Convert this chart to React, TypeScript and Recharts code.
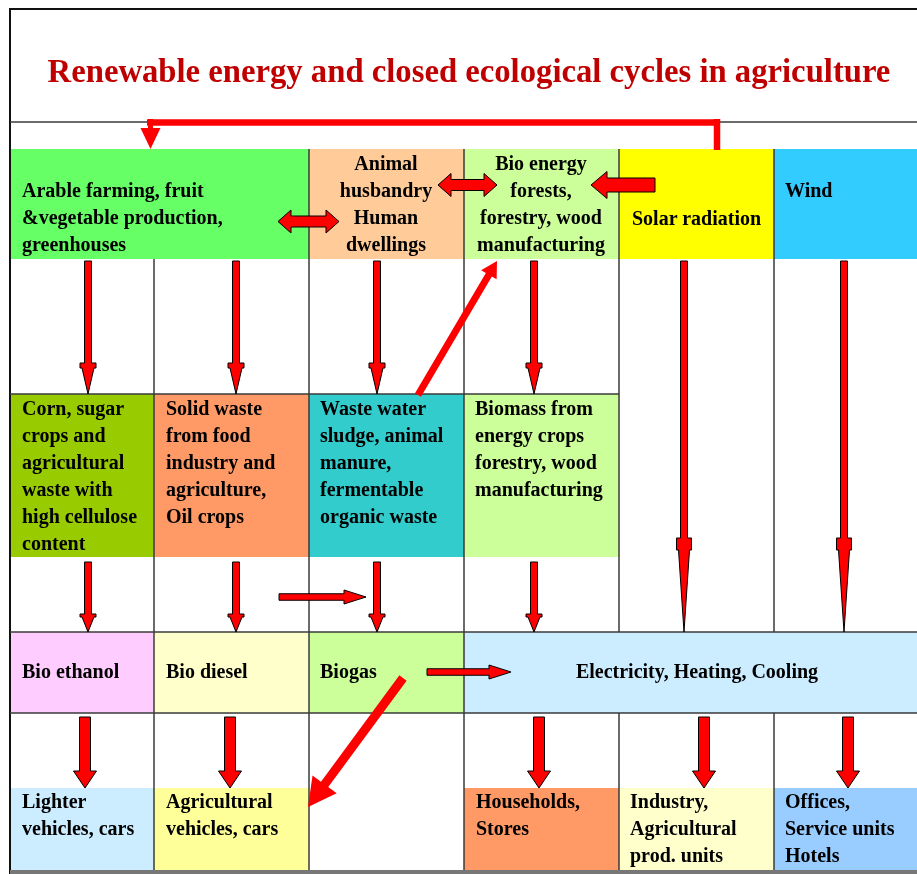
import React from 'react';
import { ComposedChart, XAxis, YAxis, ReferenceArea, ReferenceLine, Scatter } from 'recharts';

// ---- layout grid (page pixel units used as data units) ----
const colEdges = [10, 154, 309, 464, 619, 774, 917];
const rowEdges = [122, 149, 259, 394, 557, 632, 713, 788, 870];

// ---- boxes: [col start, col end, row start, row end, colour] ----
const topBoxes = [
  [0, 2, 1, 2, '#66FF66'],
  [2, 3, 1, 2, '#FFCC99'],
  [3, 4, 1, 2, '#CCFF99'],
  [4, 5, 1, 2, '#FFFF00'],
  [5, 6, 1, 2, '#33CCFF'],
];
const feedstockBoxes = [
  [0, 1, 3, 4, '#99CC00'],
  [1, 2, 3, 4, '#FF9966'],
  [2, 3, 3, 4, '#33CCCC'],
  [3, 4, 3, 4, '#CCFF99'],
];
const productBoxes = [
  [0, 1, 5, 6, '#FFCCFF'],
  [1, 2, 5, 6, '#FFFFCC'],
  [2, 3, 5, 6, '#CCFF99'],
  [3, 6, 5, 6, '#CCECFF'],
];
const consumerBoxes = [
  [0, 1, 7, 8, '#CCECFF'],
  [1, 2, 7, 8, '#FFFF99'],
  [3, 4, 7, 8, '#FF9966'],
  [4, 5, 7, 8, '#FFFFCC'],
  [5, 6, 7, 8, '#99CCFF'],
];

// ---- texts ----
const titleText = 'Renewable energy and closed ecological cycles in agriculture';
const labels = [
  { x: 469, y: 82, kind: 'title', lines: [titleText] },
  { x: 22, y: 197, kind: 'left', lines: ['Arable farming, fruit', '&vegetable production,', 'greenhouses'] },
  { x: 386, y: 170, kind: 'center', lines: ['Animal', 'husbandry', 'Human', 'dwellings'] },
  { x: 541, y: 170, kind: 'center', lines: ['Bio energy', 'forests,', 'forestry, wood', 'manufacturing'] },
  { x: 632, y: 225, kind: 'left', lines: ['Solar radiation'] },
  { x: 785, y: 197, kind: 'left', lines: ['Wind'] },
  { x: 22, y: 415, kind: 'left', lines: ['Corn, sugar', 'crops and', 'agricultural', 'waste with', 'high cellulose', 'content'] },
  { x: 166, y: 415, kind: 'left', lines: ['Solid waste', 'from food', 'industry and', 'agriculture,', 'Oil crops'] },
  { x: 320, y: 415, kind: 'left', lines: ['Waste water', 'sludge, animal', 'manure,', 'fermentable', 'organic waste'] },
  { x: 475, y: 415, kind: 'left', lines: ['Biomass from', 'energy crops', 'forestry, wood', 'manufacturing'] },
  { x: 22, y: 678, kind: 'left', lines: ['Bio ethanol'] },
  { x: 166, y: 678, kind: 'left', lines: ['Bio diesel'] },
  { x: 320, y: 678, kind: 'left', lines: ['Biogas'] },
  { x: 697, y: 678, kind: 'center', lines: ['Electricity, Heating, Cooling'] },
  { x: 22, y: 808, kind: 'left', lines: ['Lighter', 'vehicles, cars'] },
  { x: 166, y: 808, kind: 'left', lines: ['Agricultural', 'vehicles, cars'] },
  { x: 476, y: 808, kind: 'left', lines: ['Households,', 'Stores'] },
  { x: 630, y: 808, kind: 'left', lines: ['Industry,', 'Agricultural', 'prod. units'] },
  { x: 785, y: 808, kind: 'left', lines: ['Offices,', 'Service units', 'Hotels'] },
];

// ---- grid lines: [x1, y1, x2, y2, kind] ----
const gridLines = [
  [10, 9, 917, 9, 'frame'],
  [10, 8, 10, 874, 'frame'],
  [10, 122, 917, 122, 'rule'],
  [154, 259, 154, 870, 'rule'],
  [309, 149, 309, 870, 'rule'],
  [464, 149, 464, 870, 'rule'],
  [619, 149, 619, 632, 'rule'],
  [619, 713, 619, 870, 'rule'],
  [774, 149, 774, 632, 'rule'],
  [774, 713, 774, 870, 'rule'],
  [10, 394, 619, 394, 'rule'],
  [10, 632, 917, 632, 'rule'],
  [10, 713, 917, 713, 'rule'],
  [10, 872, 917, 872, 'base'],
];

// ---- flow lines (red) ----
const flowLines = [
  [717, 150, 717, 119],
  [720, 122.5, 147, 122.5],
];

// ---- arrows: [x1, y1, x2, y2, kind] ----
const downArrowXs = [88, 236, 377, 534];
const longArrowXs = [684, 844];
const consumerArrowXs = [85, 230, 539, 704, 848];
const arrows = [
  ...downArrowXs.map((x) => [x, 261, x, 394, 'thin']),
  ...longArrowXs.map((x) => [x, 261, x, 632, 'long']),
  ...downArrowXs.map((x) => [x, 562, x, 632, 'short']),
  ...consumerArrowXs.map((x) => [x, 717, x, 788, 'thick']),
  [279, 597, 366, 597, 'hflow'],
  [427, 672, 511, 672, 'hflow'],
  [278, 221.5, 339, 221.5, 'double'],
  [438, 185, 497, 185, 'double'],
  [655, 185, 591, 185, 'left'],
  [418, 395, 497, 261, 'diagUp'],
  [403, 678, 308, 807, 'diagDown'],
  [150.5, 119, 150.5, 149, 'lhead'],
];

const arrowStyles: Record<string, any> = {
  thin: { sw: 7, hw: 16, hl: 31, step: 5, outline: true },
  long: { sw: 7, hw: 15, hl: 94, step: 12, outline: true },
  short: { sw: 7, hw: 16, hl: 18, step: 3, outline: true },
  thick: { sw: 11, hw: 23, hl: 17, step: 0, outline: true },
  hflow: { sw: 6.5, hw: 14, hl: 22, step: 0, outline: true },
  double: { sw: 11, hw: 23, hl: 13, step: 0, outline: true, double: true },
  left: { sw: 14, hw: 27, hl: 16, step: 0, outline: true },
  diagUp: { sw: 7, hw: 18, hl: 16, step: 0, outline: false },
  diagDown: { sw: 9, hw: 30, hl: 28, step: 0, outline: false },
  lhead: { sw: 5, hw: 20, hl: 21, step: 0, outline: false },
};

const lineStyles: Record<string, any> = {
  frame: { stroke: '#111', width: 2 },
  rule: { stroke: '#3a3a3a', width: 1.5 },
  base: { stroke: '#777', width: 4 },
};

const FONT = "'Liberation Serif', 'Times New Roman', serif";

function arrowPoints(x1: number, y1: number, x2: number, y2: number, st: any) {
  const dx = x2 - x1, dy = y2 - y1;
  const L = Math.hypot(dx, dy);
  const ux = dx / L, uy = dy / L;
  const nx = -uy, ny = ux;
  const P = (t: number, s: number) => [x1 + ux * t + nx * s, y1 + uy * t + ny * s];
  const { sw, hw, hl, step } = st;
  const pts: number[][] = [];
  if (st.double) pts.push(P(0, 0), P(hl, hw / 2), P(hl, sw / 2));
  else pts.push(P(0, sw / 2));
  pts.push(P(L - hl, sw / 2), P(L - hl, hw / 2));
  if (step) pts.push(P(L - hl + step, hw / 2), P(L - hl + step, hw / 2 - 2));
  pts.push(P(L, 0));
  if (step) pts.push(P(L - hl + step, -hw / 2 + 2), P(L - hl + step, -hw / 2));
  pts.push(P(L - hl, -hw / 2), P(L - hl, -sw / 2));
  if (st.double) pts.push(P(hl, -sw / 2), P(hl, -hw / 2));
  else pts.push(P(0, -sw / 2));
  return pts.map((p) => `${p[0].toFixed(2)},${p[1].toFixed(2)}`).join(' ');
}

const makeArrowShape = (kind: string) => (props: any) => {
  const st = arrowStyles[kind];
  const { x1, y1, x2, y2 } = props;
  if ([x1, y1, x2, y2].some((v) => typeof v !== 'number' || isNaN(v))) return <g />;
  return (
    <polygon
      points={arrowPoints(x1, y1, x2, y2, st)}
      fill="#FF0000"
      stroke={st.outline ? '#000' : 'none'}
      strokeWidth={st.outline ? 1 : 0}
      strokeLinejoin="miter"
    />
  );
};

const LabelShape = (props: any) => {
  const { cx, cy, payload } = props;
  if (cx == null || cy == null || !payload) return <g />;
  const isTitle = payload.kind === 'title';
  const anchor = payload.kind === 'left' ? 'start' : 'middle';
  return (
    <text
      x={cx}
      y={cy}
      textAnchor={anchor}
      fontFamily={FONT}
      fontWeight="bold"
      fontSize={isTitle ? 32.7 : 20}
      fill={isTitle ? '#C00000' : '#000'}
    >
      {payload.lines.map((l: string, i: number) => (
        <tspan key={i} x={cx} dy={i === 0 ? 0 : 27}>
          {l}
        </tspan>
      ))}
    </text>
  );
};

const allBoxes = [...topBoxes, ...feedstockBoxes, ...productBoxes, ...consumerBoxes];

export default function App() {
  return (
    <div style={{ position: 'fixed', left: 8, top: 8, width: 909, height: 866 }}>
      <ComposedChart width={909} height={866} margin={{ top: 0, right: 0, bottom: 0, left: 0 }}>
        <XAxis type="number" dataKey="x" domain={[8, 917]} allowDataOverflow hide />
        <YAxis type="number" dataKey="y" domain={[8, 874]} allowDataOverflow reversed hide />
        {allBoxes.map((b: any, i) => (
          <ReferenceArea
            key={'b' + i}
            x1={colEdges[b[0]]}
            x2={colEdges[b[1]]}
            y1={rowEdges[b[2]]}
            y2={rowEdges[b[3]]}
            fill={b[4]}
            fillOpacity={1}
            stroke="none"
            ifOverflow="visible"
          />
        ))}
        {gridLines.map((g: any, i) => (
          <ReferenceLine
            key={'g' + i}
            segment={[{ x: g[0], y: g[1] }, { x: g[2], y: g[3] }]}
            stroke={lineStyles[g[4]].stroke}
            strokeWidth={lineStyles[g[4]].width}
            ifOverflow="visible"
          />
        ))}
        {flowLines.map((f, i) => (
          <ReferenceLine
            key={'f' + i}
            segment={[{ x: f[0], y: f[1] }, { x: f[2], y: f[3] }]}
            stroke="#FF0000"
            strokeWidth={6.5}
            ifOverflow="visible"
          />
        ))}
        {arrows.map((a: any, i) => (
          <ReferenceLine
            key={'a' + i}
            segment={[{ x: a[0], y: a[1] }, { x: a[2], y: a[3] }]}
            ifOverflow="visible"
            shape={makeArrowShape(a[4])}
          />
        ))}
        <Scatter data={labels} isAnimationActive={false} shape={(p: any) => <LabelShape {...p} />} />
      </ComposedChart>
    </div>
  );
}
